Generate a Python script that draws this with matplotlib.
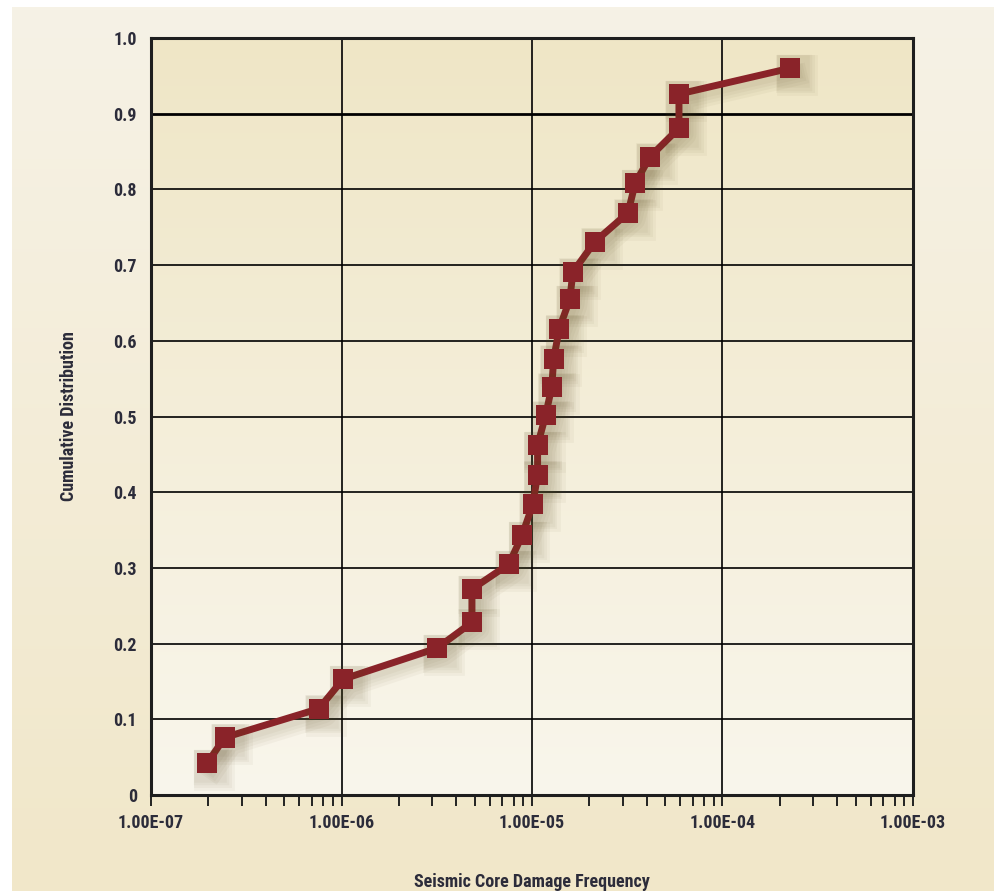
import numpy as np
import matplotlib
matplotlib.use('Agg')
import matplotlib.pyplot as plt
import matplotlib.patheffects as pe
from matplotlib.ticker import LogLocator, FixedLocator, NullFormatter

# data
freq = [1.97e-7, 2.44e-7, 7.6e-7, 1.02e-6, 3.17e-6, 4.84e-6, 4.84e-6, 7.57e-6,
        8.87e-6, 1.01e-5, 1.07e-5, 1.07e-5, 1.18e-5, 1.27e-5, 1.30e-5, 1.39e-5,
        1.58e-5, 1.64e-5, 2.14e-5, 3.19e-5, 3.48e-5, 4.16e-5, 5.91e-5, 5.91e-5,
        2.26e-4]
cum = [0.042, 0.076, 0.114, 0.153, 0.194, 0.228, 0.272, 0.305,
       0.343, 0.384, 0.423, 0.462, 0.502, 0.539, 0.576, 0.616,
       0.655, 0.691, 0.731, 0.769, 0.808, 0.843, 0.881, 0.926,
       0.960]
xticks = [1e-7, 1e-6, 1e-5, 1e-4, 1e-3]
xticklabels = ['1.00E-07', '1.00E-06', '1.00E-05', '1.00E-04', '1.00E-03']
yticks = [0, 0.1, 0.2, 0.3, 0.4, 0.5, 0.6, 0.7, 0.8, 0.9, 1.0]
yticklabels = ['0', '0.1', '0.2', '0.3', '0.4', '0.5', '0.6', '0.7', '0.8', '0.9', '1.0']

plt.rcParams['font.family'] = ['Roboto Condensed', 'DejaVu Sans Condensed',
                               'Liberation Sans Narrow', 'Liberation Sans']
txt_color = '#2c2c3a'
red = '#8a2329'

fig = plt.figure(figsize=(9.95, 8.91), dpi=100, facecolor='white')

# page background gradient
bg = fig.add_axes([12 / 995, 0, 1 - 12 / 995, 1 - 7 / 891], zorder=-10)
grad = np.linspace(0, 1, 256).reshape(-1, 1)
top = np.array([246, 242, 230]) / 255
bot = np.array([241, 231, 201]) / 255
img = top + (bot - top) * grad[..., None]
bg.imshow(img, aspect='auto', extent=[0, 1, 0, 1])
bg.axis('off')

ax = fig.add_axes([151 / 995, 96 / 891, 762 / 995, 757 / 891])
ax.set_facecolor('none')

# plot area gradient (darker at top)
atop = np.array([239, 230, 198]) / 255
abot = np.array([249, 246, 236]) / 255
aimg = atop + (abot - atop) * grad[..., None]
ax.imshow(aimg, aspect='auto', extent=[0, 1, 0, 1], transform=ax.transAxes,
          zorder=0)

ax.set_xscale('log')
ax.set_xlim(1e-7, 1e-3)
ax.set_ylim(0, 1.0)

shadow = [pe.SimpleLineShadow(offset=(o, -o), shadow_color='#5a4a20', alpha=0.045, linewidth=5 + 2 * o)
          for o in (5, 4, 3, 2)]
ax.plot(freq, cum, color=red, lw=5, marker='s', markersize=14.5,
        markeredgewidth=0, zorder=5, path_effects=shadow + [pe.Normal()])

# grid
for xv in xticks[1:-1]:
    ax.axvline(xv, color='black', lw=1.2, zorder=2)
for yv in yticks[1:-1]:
    ax.axhline(yv, color='black', lw=2.0 if yv == 0.9 else 1.2, zorder=2)

ax.xaxis.set_major_locator(FixedLocator(xticks))
ax.set_xticklabels(xticklabels)
ax.xaxis.set_minor_locator(LogLocator(base=10, subs=np.arange(2, 10), numticks=20))
ax.xaxis.set_minor_formatter(NullFormatter())
ax.set_yticks(yticks)
ax.set_yticklabels(yticklabels)

ax.tick_params(axis='x', which='both', direction='out', length=8, width=1.4,
               color='#222222', pad=6, labelsize=13, labelcolor=txt_color)
ax.tick_params(axis='y', which='both', length=0, pad=10, labelsize=13,
               labelcolor=txt_color)
for lab in ax.get_xticklabels() + ax.get_yticklabels():
    lab.set_fontweight('bold')

for s in ax.spines.values():
    s.set_linewidth(2.2)
    s.set_color('#1e1e1e')
    s.set_zorder(6)

ax.set_xlabel('Seismic Core Damage Frequency', fontsize=13, fontweight='bold',
              color=txt_color, labelpad=29)
ax.set_ylabel('Cumulative Distribution', fontsize=13, fontweight='bold',
              color=txt_color, labelpad=26)

fig.savefig('out.png', dpi=100, facecolor='white')
